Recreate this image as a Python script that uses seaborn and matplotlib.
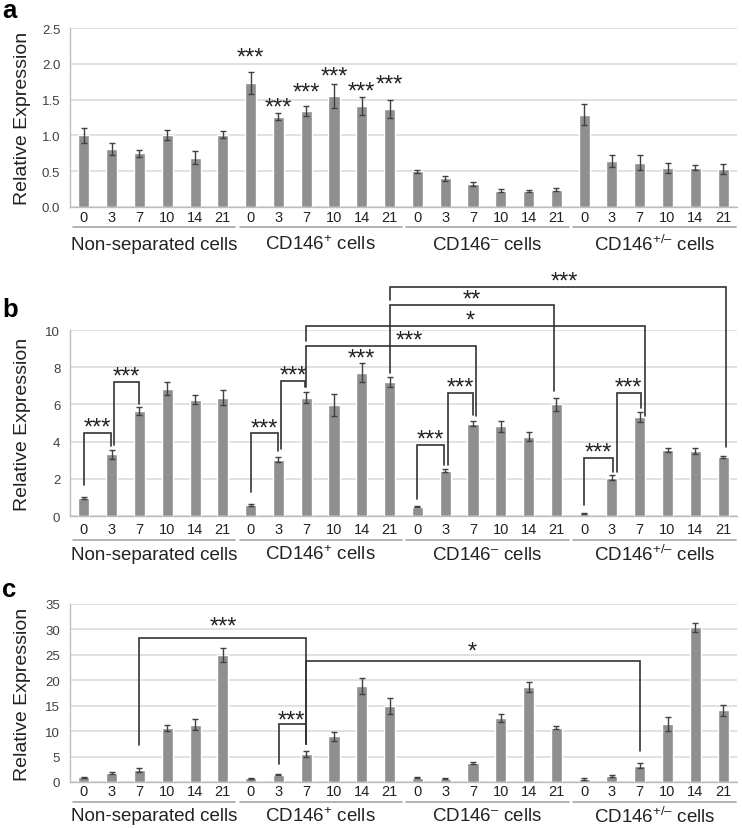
import numpy as np
import pandas as pd
import matplotlib
matplotlib.use("Agg")
import matplotlib.pyplot as plt
import seaborn as sns

# Time points (days) and cell populations
days = ["0", "3", "7", "10", "14", "21"]
groups = ["Non-separated cells", r"CD146$^{+}$ cells", r"CD146$^{–}$ cells", r"CD146$^{+/–}$ cells"]

# Panel a
a_mean = [1.00, 0.81, 0.75, 1.00, 0.69, 1.01,
          1.73, 1.26, 1.34, 1.55, 1.41, 1.37,
          0.50, 0.40, 0.32, 0.23, 0.22, 0.24,
          1.29, 0.64, 0.62, 0.54, 0.55, 0.53]
a_err = [0.10, 0.08, 0.05, 0.07, 0.09, 0.05,
         0.15, 0.05, 0.07, 0.17, 0.13, 0.12,
         0.02, 0.03, 0.03, 0.015, 0.015, 0.02,
         0.15, 0.08, 0.10, 0.07, 0.04, 0.07]

# Panel b
b_mean = [0.99, 3.31, 5.64, 6.84, 6.25, 6.35,
          0.61, 3.03, 6.35, 5.95, 7.71, 7.21,
          0.50, 2.44, 4.97, 4.83, 4.27, 6.01,
          0.13, 2.06, 5.32, 3.53, 3.51, 3.15]
b_err = [0.05, 0.25, 0.20, 0.35, 0.25, 0.40,
         0.05, 0.15, 0.30, 0.60, 0.50, 0.25,
         0.02, 0.08, 0.12, 0.30, 0.25, 0.35,
         0.02, 0.12, 0.25, 0.10, 0.15, 0.05]

# Panel c
c_mean = [0.92, 1.84, 2.37, 10.56, 11.3, 24.97,
          0.72, 1.45, 5.52, 8.98, 18.86, 14.9,
          0.79, 0.66, 3.68, 12.5, 18.6, 10.7,
          0.66, 1.18, 3.20, 11.4, 30.4, 14.1]
c_err = [0.15, 0.20, 0.35, 0.60, 1.10, 1.30,
         0.10, 0.10, 0.60, 0.90, 1.50, 1.60,
         0.10, 0.10, 0.20, 0.80, 1.00, 0.30,
         0.20, 0.20, 0.50, 1.30, 0.90, 1.10]

# significance marks: (bar index, star centre)
a_stars = [(6, 2.12, "***"), (7, 1.42, "***"), (8, 1.64, "***"),
           (9, 1.86, "***"), (10, 1.65, "***"), (11, 1.75, "***")]
b_stars = [(10, 8.62, "***")]

# brackets: (x1, x2, line y, left end y, right end y, label, text x, text y)
b_brackets = [
    (0.0, 0.96, 4.46, 1.65, 3.75, "***", 0.48, 4.88),
    (1.08, 2.0, 7.19, 3.82, 6.02, "***", 1.54, 7.61),
    (6.0, 6.97, 4.44, 1.29, 3.51, "***", 6.48, 4.86),
    (7.09, 7.95, 7.28, 3.60, 6.92, "***", 7.52, 7.70),
    (12.0, 12.97, 3.82, 0.93, 2.72, "***", 12.48, 4.24),
    (13.09, 14.0, 6.61, 2.72, 5.41, "***", 13.55, 7.03),
    (18.0, 19.03, 3.14, 0.57, 2.35, "***", 18.5, 3.56),
    (19.2, 20.03, 6.61, 2.35, 5.80, "***", 19.6, 7.03),
    (8.0, 14.1, 9.16, 6.94, 5.39, "***", 11.7, 9.58),
    (8.0, 20.2, 10.23, 9.42, 5.39, "*", 13.9, 10.65),
    (11.0, 16.9, 11.34, 7.69, 6.74, "**", 13.95, 11.76),
    (11.0, 23.1, 12.30, 11.63, 3.70, "***", 17.3, 12.72),
]
c_brackets = [
    (2.0, 8.0, 28.25, 7.27, 7.47, "***", 5.0, 31.0),
    (8.0, 20.0, 23.86, 7.47, 6.16, "*", 13.96, 26.1),
    (7.03, 8.0, 11.40, 3.54, 7.47, "***", 7.45, 12.5),
]

sns.set_style("white")
plt.rcParams["font.family"] = ["Liberation Sans", "DejaVu Sans"]
plt.rcParams["mathtext.fontset"] = "custom"
plt.rcParams["mathtext.rm"] = "Liberation Sans"
plt.rcParams["mathtext.it"] = "Liberation Sans:italic"
plt.rcParams["mathtext.bf"] = "Liberation Sans:bold"

BAR = "#8f8f8f"
GRID = "#d9d9d9"
AXIS = "#bdbdbd"
INK = "#222222"

keys = [f"{g}-{d}" for g in range(len(groups)) for d in days]
tick_labels = days * len(groups)

W, H = 742, 829
fig = plt.figure(figsize=(W / 100, H / 100), dpi=100)


def stars(ax, x, yc, label, fs=17):
    # asterisks sit high in the em box, so shift the baseline down
    ax.annotate(label, (x, yc), xytext=(0, -0.36 * fs), textcoords="offset points",
                ha="center", va="baseline", fontsize=fs, color=INK, annotation_clip=False)


def bracket(ax, x1, x2, y, y1, y2, label, tx, ty):
    ax.plot([x1, x1, x2, x2], [y1, y, y, y2], color="#333333", lw=1.2,
            clip_on=False, solid_joinstyle="miter", zorder=4)
    stars(ax, tx, ty, label)


def draw_panel(top_px, bottom_px, mean, err, top, step, fmt, letter, letter_px,
               tick_pad, line_px, label_px):
    ax = fig.add_axes([70 / W, 1 - bottom_px / H, 667 / W, (bottom_px - top_px) / H])
    h_px = bottom_px - top_px
    df = pd.DataFrame({"key": keys, "value": mean})
    sns.barplot(data=df, x="key", y="value", order=keys, color=BAR, saturation=1,
                width=0.4, errorbar=None, ax=ax, zorder=2)
    ax.errorbar(np.arange(len(keys)), mean, yerr=err, fmt="none", ecolor="#404040",
                elinewidth=1, capsize=2.5, capthick=1, zorder=3)

    ax.set_xlim(-0.5, len(keys) - 0.5)
    ax.set_ylim(0, top)
    yt = np.arange(0, top + step / 2, step)
    ax.set_yticks(yt)
    ax.set_yticklabels([fmt.format(v) for v in yt])
    ax.yaxis.grid(True, color=GRID, lw=1.1)
    ax.set_axisbelow(True)

    ax.set_xticks(np.arange(len(keys)))
    ax.set_xticklabels(tick_labels)
    ax.set_xticks(np.arange(-0.5, len(keys)), minor=True)
    ax.tick_params(axis="x", which="major", length=0, pad=tick_pad, labelsize=10.5, labelcolor=INK)
    ax.tick_params(axis="x", which="minor", length=4, color=AXIS, direction="out", width=1)
    ax.tick_params(axis="y", length=4, color=AXIS, direction="out", width=1, pad=3,
                   labelsize=9.5, labelcolor="#404040")

    sns.despine(ax=ax)
    for s in ("left", "bottom"):
        ax.spines[s].set_color(AXIS)
        ax.spines[s].set_linewidth(1)

    ax.set_xlabel("")
    ax.set_ylabel("Relative Expression", fontsize=14, color=INK)
    ax.yaxis.set_label_coords(-0.058, 0.5)

    # group underlines and names
    tr = ax.get_xaxis_transform()
    for g, name in enumerate(groups):
        x0 = g * len(days) - 0.4
        x1 = g * len(days) + 5.45
        ax.plot([x0, x1], [-line_px / h_px] * 2, transform=tr, color="#a6a6a6",
                lw=1.2, clip_on=False)
        ax.annotate(name, xy=((x0 + x1) / 2, 0), xycoords=tr, xytext=(0, -label_px * 0.72),
                    textcoords="offset points", ha="center", va="center",
                    fontsize=13.5, color=INK, annotation_clip=False)

    fig.text(2 / W, 1 - letter_px / H, letter, fontsize=18.5, fontweight="bold",
             ha="left", va="baseline", color="black")
    return ax


ax_a = draw_panel(29, 208, a_mean, a_err, 2.5, 0.5, "{:.1f}", "a", 18, 2.2, 20, 37)
for x, y, lab in a_stars:
    stars(ax_a, x, y, lab)

ax_b = draw_panel(331, 517, b_mean, b_err, 10, 2, "{:.0f}", "b", 317, 4.0, 24, 38)
for x, y, lab in b_stars:
    stars(ax_b, x, y, lab)
for br in b_brackets:
    bracket(ax_b, *br)

ax_c = draw_panel(605, 783, c_mean, c_err, 35, 5, "{:.0f}", "c", 597, 1.4, 20, 34)
for br in c_brackets:
    bracket(ax_c, *br)

fig.savefig("out.png", dpi=100)
